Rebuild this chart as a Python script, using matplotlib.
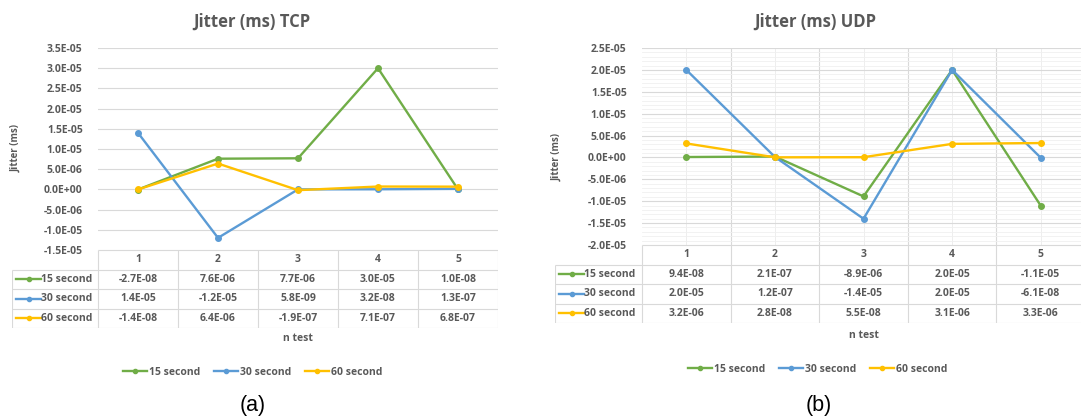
import matplotlib
matplotlib.use("Agg")
import matplotlib.pyplot as plt
from matplotlib.ticker import MultipleLocator, FuncFormatter
from matplotlib.lines import Line2D

plt.rcParams["font.family"] = ["Open Sans", "DejaVu Sans"]

# n test index and the three sampling intervals
tests = [1, 2, 3, 4, 5]
series_names = ["15 second", "30 second", "60 second"]
series_colors = ["#70AD47", "#5B9BD5", "#FFC000"]

# TCP jitter (ms)
tcp_15 = [-2.7e-08, 7.6e-06, 7.7e-06, 3.0e-05, 1.0e-08]
tcp_30 = [1.4e-05, -1.2e-05, 5.8e-09, 3.2e-08, 1.3e-07]
tcp_60 = [-1.4e-08, 6.4e-06, -1.9e-07, 7.1e-07, 6.8e-07]

# UDP jitter (ms)
udp_15 = [9.4e-08, 2.1e-07, -8.9e-06, 2.0e-05, -1.1e-05]
udp_30 = [2.0e-05, 1.2e-07, -1.4e-05, 2.0e-05, -6.1e-08]
udp_60 = [3.2e-06, 2.8e-08, 5.5e-08, 3.1e-06, 3.3e-06]

TXT = "#595959"
GRID = "#d9d9d9"
W, H = 1081, 419

fig = plt.figure(figsize=(W / 100, H / 100), dpi=100)


def box(x0, y0, x1, y1):
    # pixel box measured from the top-left corner -> figure fraction rect
    return [x0 / W, 1 - y1 / H, (x1 - x0) / W, (y1 - y0) / H]


def fig_text(x, y, s, **kw):
    kw.setdefault("ha", "center")
    kw.setdefault("va", "center")
    return fig.text(x / W, 1 - y / H, s, **kw)


def sci(v, pos=None):
    return f"{v:.1E}"


def panel(plot_px, table_px, ylim, title, caption, series, fine_grid,
          title_xy, ylabel_xy, xlabel_y, legend_xy, caption_xy):
    x0, y0, x1, y1 = plot_px
    ax = fig.add_axes(box(x0, y0, x1, y1))
    for vals, name, col in zip(series, series_names, series_colors):
        ax.plot(tests, vals, color=col, lw=1.7, marker="o", ms=4, label=name)
    ax.set_xlim(0.5, 5.5)
    ax.set_ylim(*ylim)
    ax.yaxis.set_major_locator(MultipleLocator(5e-6))
    ax.yaxis.set_major_formatter(FuncFormatter(sci))
    ax.set_xticks(tests)
    ax.set_xticklabels([])
    for s in ax.spines.values():
        s.set_visible(False)
    ax.tick_params(length=0, pad=11, labelsize=7.5, labelcolor=TXT)
    for lab in ax.get_yticklabels():
        lab.set_fontweight("bold")
    ax.set_axisbelow(True)
    ax.grid(axis="y", which="major", color=GRID, lw=0.8)
    if fine_grid:
        ax.yaxis.set_minor_locator(MultipleLocator(1e-6))
        ax.set_xticks([t + 0.5 for t in tests[:-1]], minor=True)
        ax.tick_params(which="minor", length=0)
        ax.grid(axis="y", which="minor", color="#f0f0f0", lw=0.6)
        ax.grid(axis="x", which="major", color="#eeeeee", lw=0.7)
        ax.grid(axis="x", which="minor", color=GRID, lw=0.8)

    # data table under the plot
    tl, tb = table_px
    cw = (x1 - x0) / 5
    xl = 0.5 - (x0 - tl) / cw
    tax = fig.add_axes(box(tl, y1, x1, tb))
    tax.set_xlim(xl, 5.5)
    tax.set_ylim(4, 0)
    tax.axis("off")
    tax.hlines(0, 0.5, 5.5, color=GRID, lw=0.8)
    tax.hlines([1, 2, 3, 4], xl, 5.5, color=GRID, lw=0.8)
    tax.vlines(xl, 1, 4, color=GRID, lw=0.8)
    tax.vlines([t - 0.5 for t in tests] + [5.5], 0, 4, color=GRID, lw=0.8)
    for t in tests:
        tax.text(t, 0.5, str(t), ha="center", va="center", fontsize=7.5,
                 fontweight="bold", color=TXT)
    key = 25 / cw
    kx = xl + 4 / cw
    for r, (vals, name, col) in enumerate(zip(series, series_names, series_colors)):
        yc = r + 1.5
        tax.plot([kx, kx + key], [yc, yc], color=col, lw=1.7, clip_on=False)
        tax.plot([kx + key / 2], [yc], color=col, marker="o", ms=3, clip_on=False)
        tax.text(kx + key, yc, name, ha="left", va="center", fontsize=7.5,
                 fontweight="bold", color=TXT)
        for t, v in zip(tests, vals):
            tax.text(t, yc, sci(v), ha="center", va="center", fontsize=7.5,
                     fontweight="bold", color=TXT)

    # titles and labels
    fig_text(*title_xy, title, fontsize=12, fontweight="bold", color=TXT)
    fig_text(*ylabel_xy, "Jitter (ms)", rotation=90, fontsize=7,
             fontweight="bold", color=TXT)
    fig_text(x0 + 2.5 * cw, xlabel_y, "n test", fontsize=7.5,
             fontweight="bold", color=TXT)

    handles = [Line2D([], [], color=c, lw=1.7, marker="o", ms=3) for c in series_colors]
    fig.legend(handles, series_names, loc="center",
               bbox_to_anchor=(legend_xy[0] / W, 1 - legend_xy[1] / H),
               ncol=3, frameon=False, handlelength=2.3, handletextpad=0.2,
               columnspacing=1.3, prop={"size": 7.5, "weight": "bold"},
               labelcolor=TXT)
    fig_text(*caption_xy, caption, fontsize=15.5, family="Liberation Sans",
             color="black")


panel((98, 48, 498, 250), (12, 328), (-1.5e-5, 3.5e-5), "Jitter (ms) TCP", "(a)",
      [tcp_15, tcp_30, tcp_60], False, (252, 22), (16, 148), 338, (253, 372), (253, 405))
panel((642, 48, 1085, 245), (555, 323), (-2.0e-5, 2.5e-5), "Jitter (ms) UDP", "(b)",
      [udp_15, udp_30, udp_60], True, (815, 22), (557, 157), 335, (818, 369), (819, 405))

fig.savefig("out.png", dpi=100, facecolor="white")
